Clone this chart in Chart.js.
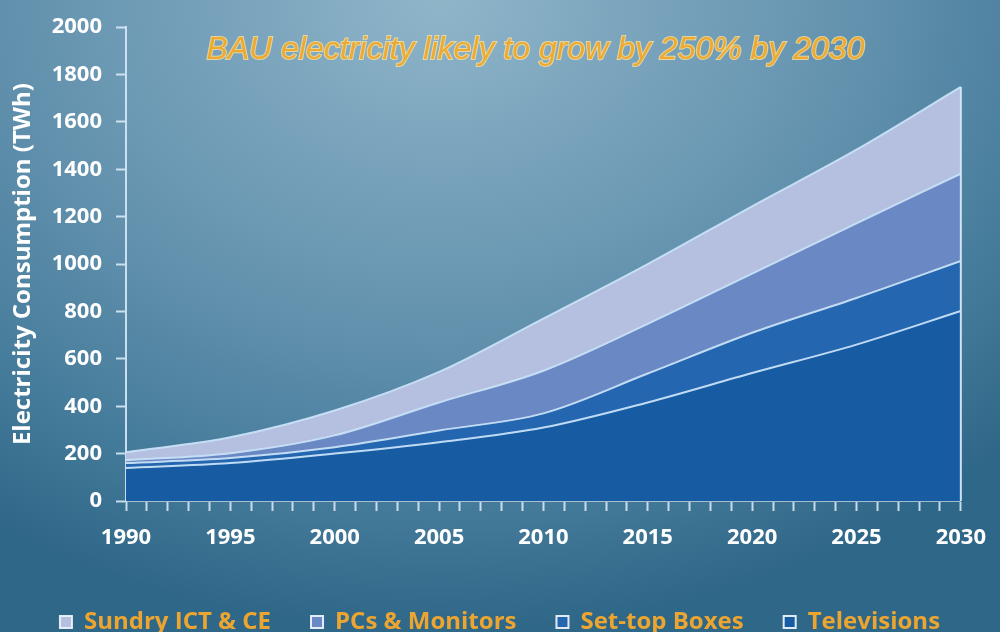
<!DOCTYPE html>
<html>
<head>
<meta charset="utf-8">
<script src="https://cdn.jsdelivr.net/npm/chart.js@4/dist/chart.umd.min.js"></script>
<style>
  html, body { margin: 0; padding: 0; }
  body {
    width: 1000px; height: 632px; overflow: hidden;
    background: radial-gradient(ellipse 80% 100% at 44% 0%, #8fb5c9 0%, #78a2bb 28%, #6392ae 52%, #477d9c 78%, #2f6788 100%);
  }
  #wrap { position: relative; width: 1000px; height: 632px; }
</style>
</head>
<body>
<div id="wrap"><canvas id="chart" width="1000" height="632"></canvas></div>
<script>
// Years with values (TWh), each series is its own layer of the stack
const years = [1990, 1995, 2000, 2005, 2010, 2015, 2020, 2025, 2030];
const televisions = [139, 160, 200, 248, 310, 416, 540, 660, 802];
const setTopBoxes = [21, 21, 27, 50, 60, 122, 170, 197, 211];
const pcsMonitors = [12, 21, 50, 118, 180, 210, 250, 315, 369];
const sundryIctCe = [34, 67, 105, 129, 220, 252, 284, 311, 366];

const seriesLabels = ['Televisions', 'Set-top Boxes', 'PCs & Monitors', 'Sundry ICT & CE'];
const yTicks = [0, 200, 400, 600, 800, 1000, 1200, 1400, 1600, 1800, 2000];
const xLabelYears = [1990, 1995, 2000, 2005, 2010, 2015, 2020, 2025, 2030];

const chartTitle = 'BAU electricity likely to grow by 250% by 2030';
const yTitle = 'Electricity Consumption (TWh)';

const fills = ['#175ba3', '#2566b0', '#6a88c4', '#b5bfdf'];
const edge = 'rgba(200,225,248,0.95)';

function points(values) {
    return years.map((y, i) => ({ x: y, y: values[i] }));
}

const datasets = [televisions, setTopBoxes, pcsMonitors, sundryIctCe].map((vals, i) => ({
    label: seriesLabels[i],
    data: points(vals),
    backgroundColor: fills[i],
    borderColor: edge,
    borderWidth: 2,
    pointRadius: 0,
    cubicInterpolationMode: 'monotone',
    fill: i === 0 ? 'origin' : '-1'
}));

// Title text and the closing edge of the stack at the last year
const decorations = {
    id: 'decorations',
    afterDatasetsDraw(chart) {
        const { ctx, chartArea, scales } = chart;
        const lastIdx = years.length - 1;
        const total = televisions[lastIdx] + setTopBoxes[lastIdx] + pcsMonitors[lastIdx] + sundryIctCe[lastIdx];
        const x = scales.x.getPixelForValue(years[lastIdx]);
        ctx.save();
        ctx.strokeStyle = 'rgba(215,232,250,0.95)';
        ctx.lineWidth = 2;
        ctx.beginPath();
        ctx.moveTo(x, scales.y.getPixelForValue(total));
        ctx.lineTo(x, scales.y.getPixelForValue(0));
        ctx.stroke();

        ctx.font = 'italic 32px "Liberation Sans", Arial, sans-serif';
        ctx.textAlign = 'center';
        ctx.textBaseline = 'middle';
        const tx = (chartArea.left + chartArea.right) / 2 - 8;
        const ty = chartArea.top + 23;
        ctx.lineWidth = 2;
        ctx.strokeStyle = 'rgba(250,226,160,0.8)';
        ctx.strokeText(chartTitle, tx, ty);
        ctx.fillStyle = '#eeaa30';
        ctx.fillText(chartTitle, tx, ty);
        ctx.restore();
    }
};

const legendPad = 40;

new Chart(document.getElementById('chart'), {
    type: 'line',
    data: { datasets: datasets },
    options: {
        responsive: false,
        animation: false,
        layout: { padding: { left: 0, right: 0, top: 25, bottom: 0 } },
        plugins: {
            legend: {
                position: 'bottom',
                reverse: true,
                maxHeight: legendPad + 22,
                labels: {
                    color: '#eca530',
                    font: { family: '"Open Sans", sans-serif', size: 24, weight: 'bold' },
                    boxWidth: 12,
                    boxHeight: 12,
                    padding: legendPad,
                    generateLabels(chart) {
                        return chart.data.datasets.map((ds, i) => ({
                            text: ds.label,
                            fillStyle: ds.backgroundColor,
                            strokeStyle: 'rgba(235,242,252,0.95)',
                            lineWidth: 2,
                            fontColor: '#eca530',
                            datasetIndex: i
                        }));
                    }
                }
            },
            tooltip: { enabled: false }
        },
        scales: {
            x: {
                type: 'linear',
                min: years[0],
                max: years[years.length - 1],
                afterFit(scale) { scale.height = 109 - legendPad; },
                afterBuildTicks(scale) {
                    const t = [];
                    for (let y = years[0]; y <= years[years.length - 1]; y++) t.push({ value: y });
                    scale.ticks = t;
                },
                ticks: {
                    autoSkip: false,
                    maxRotation: 0,
                    color: '#ffffff',
                    padding: 14,
                    font: { family: '"Open Sans", sans-serif', size: 22, weight: 'bold' },
                    callback: v => xLabelYears.includes(v) ? String(v) : ''
                },
                grid: {
                    drawOnChartArea: false,
                    tickLength: 10,
                    tickWidth: 2,
                    color: 'rgba(225,238,250,0.85)'
                },
                border: { color: 'rgba(190,210,228,0.8)', width: 2 }
            },
            y: {
                stacked: true,
                min: 0,
                max: 2000,
                afterFit(scale) { scale.width = 126; },
                afterBuildTicks(scale) { scale.ticks = yTicks.map(v => ({ value: v })); },
                ticks: {
                    color: '#ffffff',
                    padding: 14,
                    font: { family: '"Open Sans", sans-serif', size: 22, weight: 'bold' },
                    callback: v => String(v)
                },
                grid: {
                    drawOnChartArea: false,
                    tickLength: 10,
                    tickWidth: 2,
                    color: 'rgba(225,238,250,0.85)'
                },
                border: { color: 'rgba(215,232,248,0.9)', width: 2 },
                title: {
                    display: true,
                    text: yTitle,
                    color: '#ffffff',
                    padding: { top: 9, bottom: 0 },
                    font: { family: '"Open Sans", sans-serif', size: 24, weight: 'bold' }
                }
            },
            // empty margin on the right so the legend can use the full width
            yRight: {
                position: 'right',
                min: 0,
                max: 2000,
                afterFit(scale) { scale.width = 32; },
                ticks: { display: false },
                grid: { display: false },
                border: { display: false }
            }
        }
    },
    plugins: [decorations]
});
</script>
</body>
</html>
